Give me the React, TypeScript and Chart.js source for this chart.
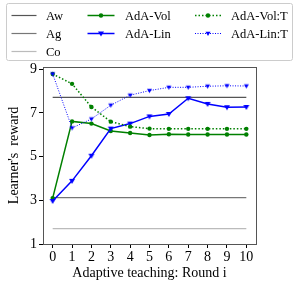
import { useEffect, useRef } from 'react';
import { Chart, registerables } from 'chart.js';
Chart.register(...registerables);

const rounds = [0, 1, 2, 3, 4, 5, 6, 7, 8, 9, 10];
const adaVol = [3.1, 6.61, 6.51, 6.17, 6.08, 5.99, 6.02, 6.01, 6.01, 6.01, 6.01];
const adaVolT = [8.78, 8.33, 7.27, 6.6, 6.37, 6.28, 6.27, 6.27, 6.27, 6.27, 6.27];
const adaLin = [2.97, 3.89, 5.04, 6.28, 6.51, 6.84, 6.95, 7.67, 7.41, 7.26, 7.27];
const adaLinT = [8.78, 6.31, 6.72, 7.35, 7.81, 8.02, 8.17, 8.17, 8.22, 8.24, 8.23];
const awLevel = 7.71;
const agLevel = 3.12;
const coLevel = 1.7;
const yTicks = [1, 3, 5, 7, 9];
const xTicks = rounds;

const FONT = '"Liberation Serif", "DejaVu Serif", serif';

type Item = { label: string; col: number; row: number; color: string; width: number; dash: number[]; marker?: 'circle' | 'tri'; size?: number };

const legendItems: Item[] = [
  { label: 'Aw', col: 0, row: 0, color: '#555555', width: 1.2, dash: [] },
  { label: 'Ag', col: 0, row: 1, color: '#777777', width: 1.2, dash: [] },
  { label: 'Co', col: 0, row: 2, color: '#bbbbbb', width: 1.2, dash: [] },
  { label: 'AdA-Vol', col: 1, row: 0, color: '#008000', width: 1.5, dash: [], marker: 'circle', size: 2.2 },
  { label: 'AdA-Lin', col: 1, row: 1, color: '#0000ff', width: 1.5, dash: [], marker: 'tri', size: 3 },
  { label: 'AdA-Vol:T', col: 2, row: 0, color: '#008000', width: 1.5, dash: [1.5, 2], marker: 'circle', size: 2.2 },
  { label: 'AdA-Lin:T', col: 2, row: 1, color: '#0000ff', width: 1, dash: [1, 1.5], marker: 'tri', size: 2.5 },
];

function drawMarker(ctx: CanvasRenderingContext2D, kind: string, x: number, y: number, r: number, color: string) {
  ctx.save();
  ctx.setLineDash([]);
  ctx.fillStyle = color;
  ctx.beginPath();
  if (kind === 'circle') {
    ctx.arc(x, y, r, 0, Math.PI * 2);
  } else {
    ctx.moveTo(x - r, y - r * 0.7);
    ctx.lineTo(x + r, y - r * 0.7);
    ctx.lineTo(x, y + r * 1.0);
    ctx.closePath();
  }
  ctx.fill();
  ctx.restore();
}

const framePlugin = {
  id: 'frameAndLegend',
  afterDraw(chart: any) {
    const ctx: CanvasRenderingContext2D = chart.ctx;
    const a = chart.chartArea;
    ctx.save();
    ctx.strokeStyle = '#555555';
    ctx.lineWidth = 1;
    ctx.strokeRect(Math.round(a.left) + 0.5, Math.round(a.top) + 0.5, Math.round(a.right - a.left), Math.round(a.bottom - a.top));

    // legend frame
    ctx.strokeStyle = '#cccccc';
    ctx.fillStyle = '#ffffff';
    ctx.beginPath();
    const bx = 6.5, by = 3.5, bw = 286, bh = 57, rr = 2;
    ctx.moveTo(bx + rr, by);
    ctx.lineTo(bx + bw - rr, by);
    ctx.quadraticCurveTo(bx + bw, by, bx + bw, by + rr);
    ctx.lineTo(bx + bw, by + bh - rr);
    ctx.quadraticCurveTo(bx + bw, by + bh, bx + bw - rr, by + bh);
    ctx.lineTo(bx + rr, by + bh);
    ctx.quadraticCurveTo(bx, by + bh, bx, by + bh - rr);
    ctx.lineTo(bx, by + rr);
    ctx.quadraticCurveTo(bx, by, bx + rr, by);
    ctx.fill();
    ctx.stroke();

    const colLine = [[11.5, 36.5], [87.5, 114.5], [195, 221]];
    const colText = [46, 125, 231];
    const rowY = [15.5, 33.5, 51.5];
    ctx.font = '12.5px ' + FONT;
    ctx.textBaseline = 'middle';
    for (const it of legendItems) {
      const [x0, x1] = colLine[it.col];
      const y = rowY[it.row];
      ctx.strokeStyle = it.color;
      ctx.lineWidth = it.width;
      ctx.setLineDash(it.dash);
      ctx.beginPath();
      ctx.moveTo(x0, y);
      ctx.lineTo(x1, y);
      ctx.stroke();
      ctx.setLineDash([]);
      if (it.marker) drawMarker(ctx, it.marker, (x0 + x1) / 2, y, it.size || 2.5, it.color);
      ctx.fillStyle = '#000';
      ctx.fillText(it.label, colText[it.col], y + 1);
    }
    ctx.restore();
  },
};

function triangleDown(r: number, color: string) {
  const c = document.createElement('canvas');
  const s = Math.ceil(r * 2 + 2);
  c.width = s;
  c.height = s;
  const ctx = c.getContext('2d')!;
  const m = s / 2;
  ctx.fillStyle = color;
  ctx.beginPath();
  ctx.moveTo(m - r, m - r * 0.7);
  ctx.lineTo(m + r, m - r * 0.7);
  ctx.lineTo(m, m + r);
  ctx.closePath();
  ctx.fill();
  return c;
}

export default function App() {
  const ref = useRef<HTMLCanvasElement | null>(null);
  useEffect(() => {
    document.body.style.margin = '0';
    const toPts = (arr: number[]) => arr.map((v, i) => ({ x: rounds[i], y: v }));
    const hline = (v: number) => [{ x: rounds[0], y: v }, { x: rounds[rounds.length - 1], y: v }];
    const chart = new Chart(ref.current!, {
      type: 'line',
      data: {
        datasets: [
          { label: 'Aw', data: hline(awLevel), borderColor: '#555555', borderWidth: 1.2, pointRadius: 0, order: 6 },
          { label: 'Ag', data: hline(agLevel), borderColor: '#777777', borderWidth: 1.2, pointRadius: 0, order: 5 },
          { label: 'Co', data: hline(coLevel), borderColor: '#bbbbbb', borderWidth: 1.2, pointRadius: 0, order: 4 },
          { label: 'AdA-Vol', data: toPts(adaVol), borderColor: '#008000', backgroundColor: '#008000', borderWidth: 1.5, pointRadius: 2.2, pointBorderWidth: 0, pointStyle: 'circle', order: 3 },
          { label: 'AdA-Lin', data: toPts(adaLin), borderColor: '#0000ff', backgroundColor: '#0000ff', borderWidth: 1.5, pointRadius: 3, pointStyle: triangleDown(3, '#0000ff') as any, order: 2 },
          { label: 'AdA-Vol:T', data: toPts(adaVolT), borderColor: '#008000', backgroundColor: '#008000', borderWidth: 1.5, borderDash: [1.5, 2], pointRadius: 2.2, pointBorderWidth: 0, pointStyle: 'circle', order: 1 },
          { label: 'AdA-Lin:T', data: toPts(adaLinT), borderColor: '#0000ff', backgroundColor: '#0000ff', borderWidth: 1, borderDash: [1, 1.5], pointRadius: 2.5, pointStyle: triangleDown(2.5, '#0000ff') as any, order: 0 },
        ] as any,
      },
      options: {
        animation: false,
        responsive: false,
        layout: { padding: { top: 67, right: 43, left: 0, bottom: 0 } },
        plugins: { legend: { display: false }, tooltip: { enabled: false } },
        elements: { line: { tension: 0 } },
        scales: {
          x: {
            type: 'linear',
            min: -0.5,
            max: 10.5,
            afterBuildTicks: (s: any) => { s.ticks = xTicks.map((v) => ({ value: v })); },
            afterFit: (s: any) => { s.height = 41; },
            grid: { drawOnChartArea: false, drawTicks: true, tickLength: 4, color: '#000' },
            border: { display: false },
            ticks: { font: { family: FONT, size: 14 }, color: '#000', padding: 1, maxRotation: 0, autoSkip: false },
            title: { display: true, text: 'Adaptive teaching: Round i', font: { family: FONT, size: 14 }, color: '#000', padding: { top: 0, bottom: 3 } },
          },
          y: {
            type: 'linear',
            min: 1,
            max: 9.1,
            afterBuildTicks: (s: any) => { s.ticks = yTicks.map((v) => ({ value: v })); },
            afterFit: (s: any) => { s.width = 43; },
            grid: { drawOnChartArea: false, drawTicks: true, tickLength: 4, color: '#000' },
            border: { display: false },
            ticks: { font: { family: FONT, size: 14 }, color: '#000', padding: 2 },
            title: { display: true, text: "Learner's  reward", font: { family: FONT, size: 14 }, color: '#000', padding: { top: 6, bottom: 0 } },
          },
        },
      } as any,
      plugins: [framePlugin],
    });
    return () => chart.destroy();
  }, []);
  return (
    <div style={{ width: 299, height: 285 }}>
      <canvas ref={ref} width={299} height={285} style={{ width: 299, height: 285, display: 'block' }} />
    </div>
  );
}
